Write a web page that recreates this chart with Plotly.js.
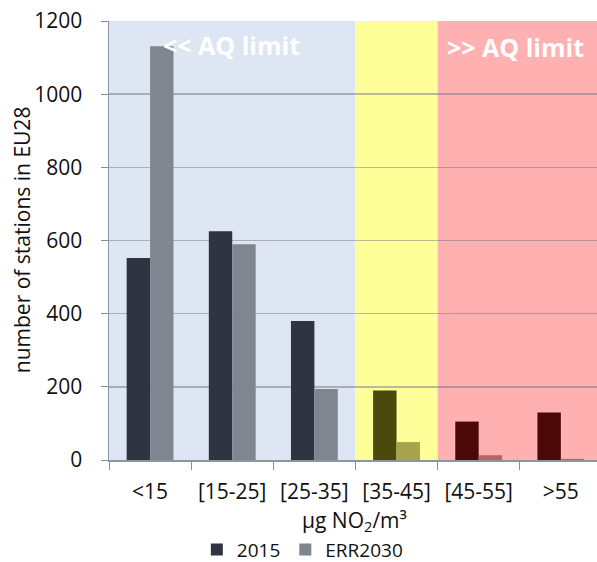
<!DOCTYPE html>
<html>
<head>
<meta charset="utf-8">
<script src="https://cdn.plot.ly/plotly-3.0.1.min.js"></script>
<style>html,body{margin:0;padding:0;background:#fff;}#chart{width:597px;height:562px;}</style>
</head>
<body>
<div id="chart"></div>
<script>
var categories = ['<15', '[15-25]', '[25-35]', '[35-45]', '[45-55]', '>55'];
var values2015 = [552, 625, 380, 190, 105, 130];
var valuesERR2030 = [1131, 590, 194, 49, 13, 3];
var seriesNames = ['2015', 'ERR2030'];
var yTicks = [0, 200, 400, 600, 800, 1000, 1200];

// colour per category zone (below AQ limit / around / above)
var zone = ['low', 'low', 'low', 'mid', 'high', 'high'];
var col2015 = {low: '#2e3440', mid: '#4a4a0c', high: '#4a0808'};
var colERR = {low: '#7f8690', mid: '#a6a44c', high: '#b66464'};

var FONT = '"Open Sans", Carlito, "Liberation Sans", sans-serif';
var TXT = '#111111';

var traces = [
  {type: 'bar', name: seriesNames[0], x: categories, y: values2015,
   marker: {color: zone.map(function(z){return col2015[z];})}},
  {type: 'bar', name: seriesNames[1], x: categories, y: valuesERR2030,
   marker: {color: zone.map(function(z){return colERR[z];})}}
];

var layout = {
  width: 597, height: 562,
  margin: {l: 109, r: 0, t: 21, b: 102, autoexpand: false},
  paper_bgcolor: '#ffffff', plot_bgcolor: '#ffffff',
  barmode: 'group', bargap: 0.43, bargroupgap: 0,
  font: {family: FONT, size: 21, color: TXT},
  showlegend: true,
  legend: {orientation: 'h', x: 0.18, xanchor: 'left', y: -0.204, yanchor: 'middle',
           bgcolor: 'rgba(0,0,0,0)', font: {family: FONT, size: 19, color: TXT},
           itemclick: false},
  xaxis: {type: 'category', range: [-0.5, 5.44], showgrid: false, zeroline: false,
          showline: true, linecolor: '#8c96a0', linewidth: 1.5,
          ticks: 'outside', tickson: 'boundaries', ticklen: 8, tickcolor: '#8c8c8c',
          ticklabelstandoff: 12, tickfont: {family: FONT, size: 21, color: TXT}},
  yaxis: {range: [0, 1200], tickvals: yTicks, showgrid: true,
          gridcolor: 'rgba(110,120,140,0.5)', gridwidth: 1.5, zeroline: false,
          showline: true, linecolor: '#8c96a0', linewidth: 1.5,
          ticks: 'outside', ticklen: 7, tickcolor: '#8c8c8c',
          ticklabelstandoff: 14, tickfont: {family: FONT, size: 21, color: TXT}},
  shapes: [
    {type: 'rect', layer: 'below', xref: 'x', yref: 'y', x0: -0.5, x1: 2.5, y0: 0, y1: 1200,
     fillcolor: '#dde6f2', line: {width: 0}},
    {type: 'rect', layer: 'below', xref: 'x', yref: 'y', x0: 2.5, x1: 3.5, y0: 0, y1: 1200,
     fillcolor: '#ffff99', line: {width: 0}},
    {type: 'rect', layer: 'below', xref: 'x', yref: 'y', x0: 3.5, x1: 5.44, y0: 0, y1: 1200,
     fillcolor: '#ffb0b0', line: {width: 0}}
  ],
  annotations: [
    {text: '<< AQ limit', xref: 'paper', yref: 'paper', x: 0.25, y: 0.945,
     xanchor: 'center', yanchor: 'middle', showarrow: false,
     font: {family: FONT, size: 25, color: '#ffffff', weight: 'bold'}},
    {text: '>> AQ limit', xref: 'paper', yref: 'paper', x: 0.834, y: 0.941,
     xanchor: 'center', yanchor: 'middle', showarrow: false,
     font: {family: FONT, size: 25, color: '#ffffff', weight: 'bold'}},
    {text: 'number of stations in EU28', xref: 'paper', yref: 'paper', x: -0.178, y: 0.501,
     xanchor: 'center', yanchor: 'middle', textangle: -90, showarrow: false,
     font: {family: FONT, size: 21, color: TXT}},
    {text: 'µg NO<sub>2</sub>/m³', xref: 'paper', yref: 'paper', x: 0.504, y: -0.139,
     xanchor: 'center', yanchor: 'middle', showarrow: false,
     font: {family: FONT, size: 21, color: TXT}}
  ]
};

Plotly.newPlot('chart', traces, layout, {staticPlot: true, displayModeBar: false});
</script>
</body>
</html>
